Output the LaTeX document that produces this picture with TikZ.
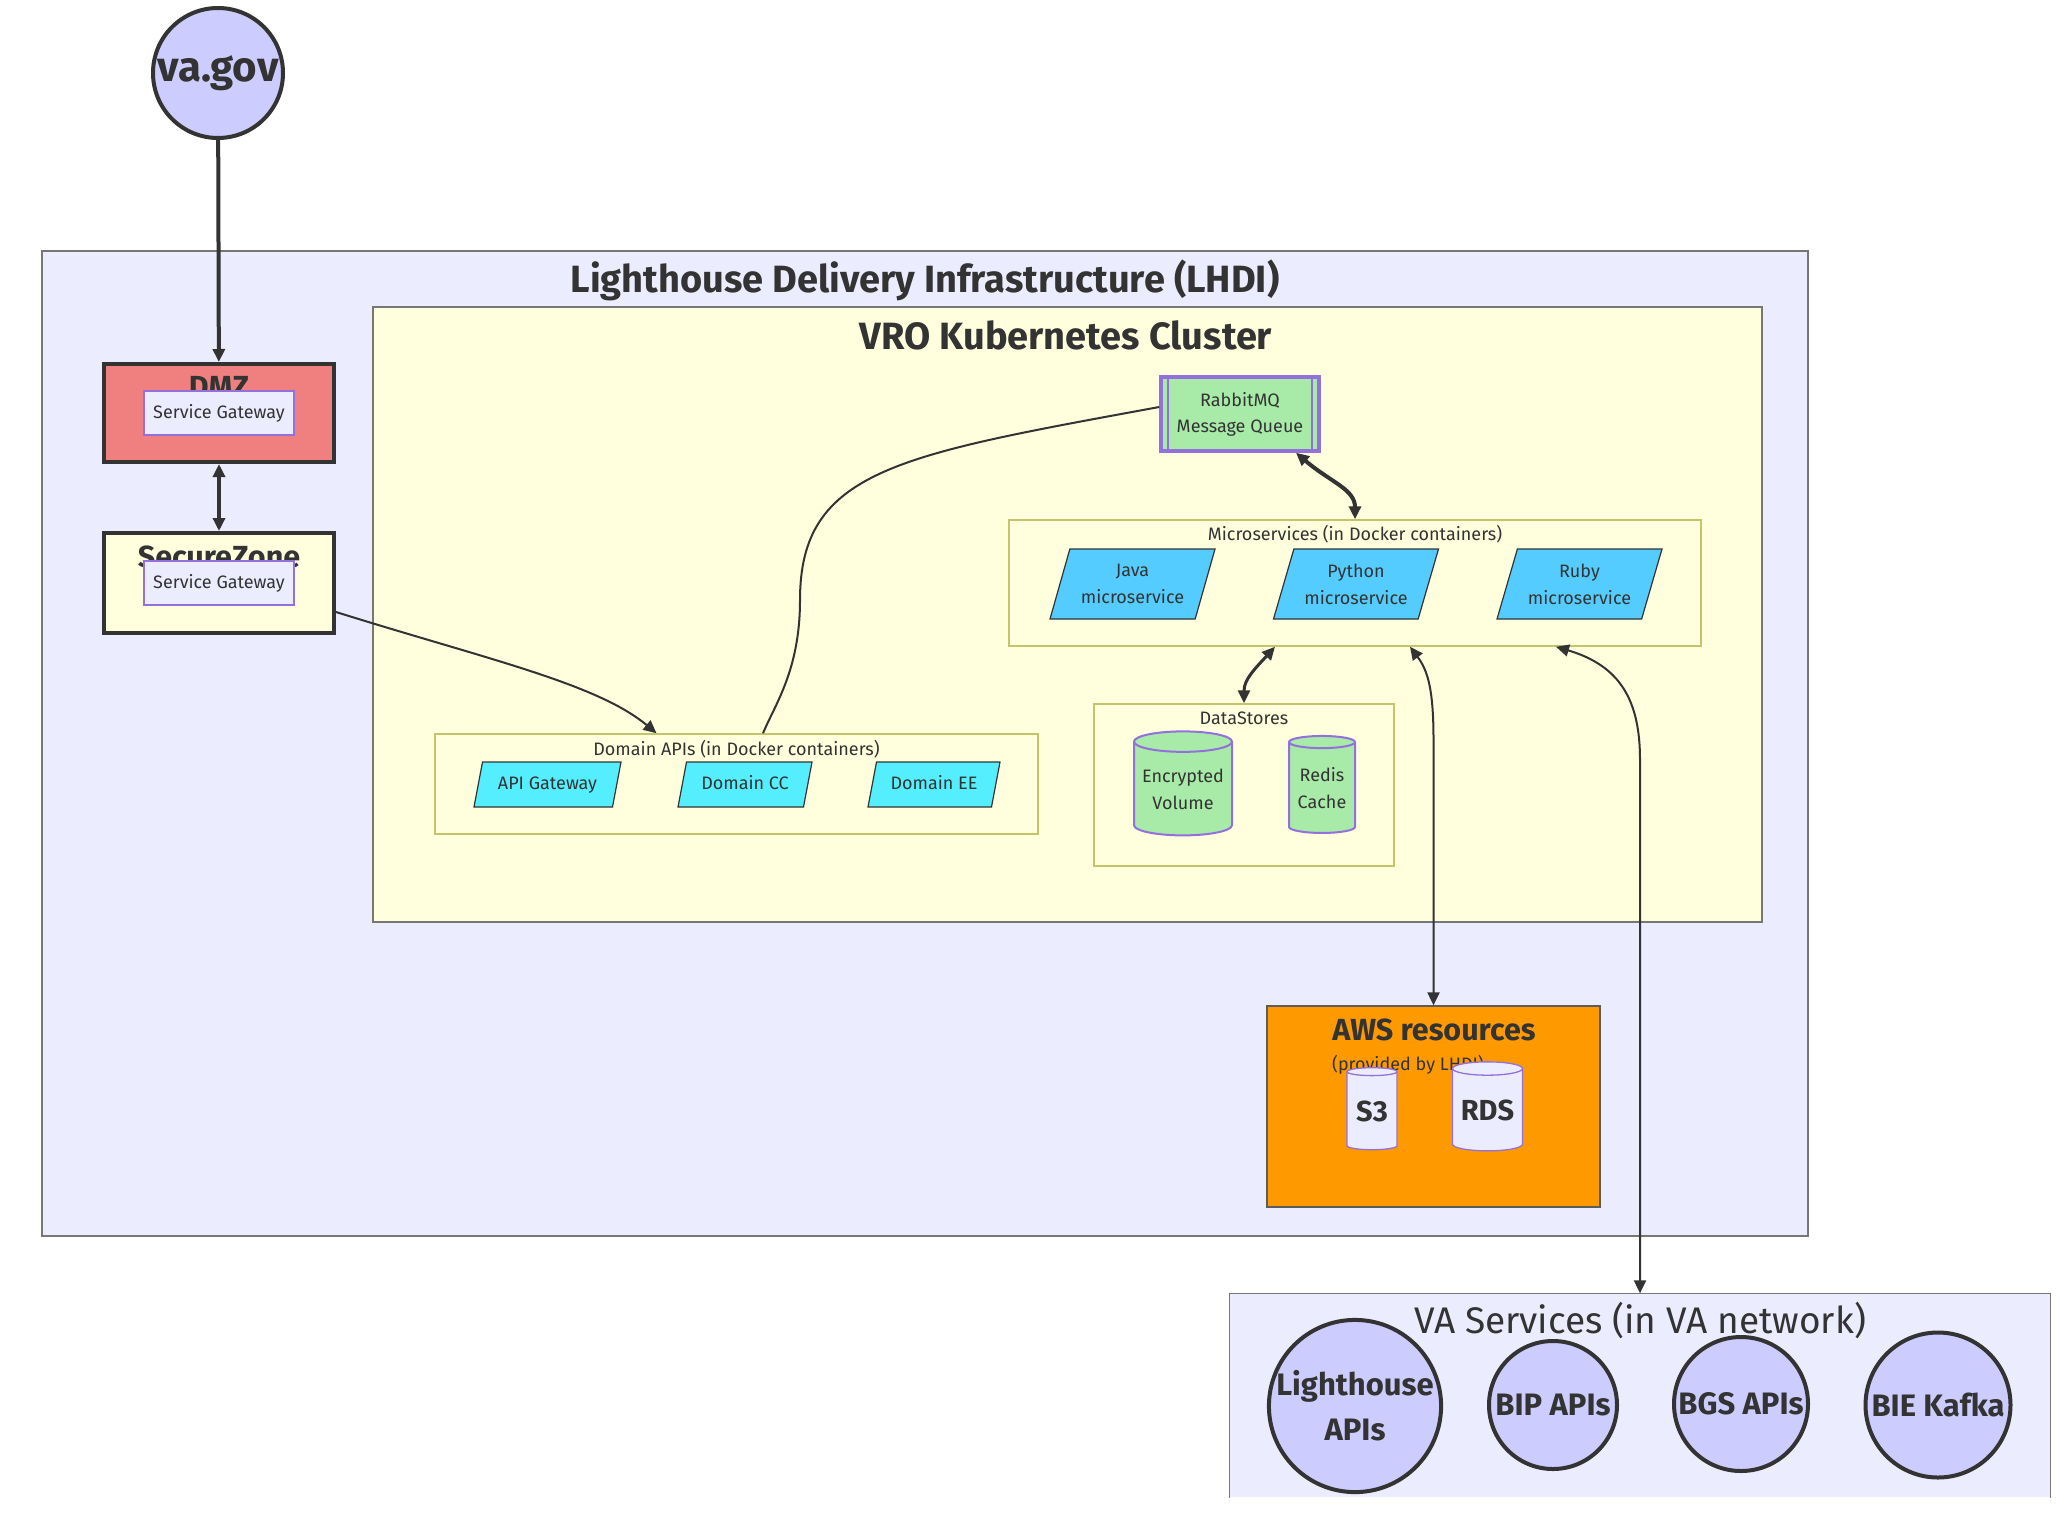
\documentclass[tikz,border=0pt]{standalone}
\usepackage{fontspec}
\setmainfont{Fira Sans}
\usetikzlibrary{shapes,arrows.meta,calc}

\definecolor{txt}{HTML}{333333}
\definecolor{lavender}{HTML}{ECECFF}
\definecolor{cream}{HTML}{FFFFDE}
\definecolor{podline}{HTML}{C4C46A}
\definecolor{boxgray}{HTML}{777777}
\definecolor{purp}{HTML}{9370DB}
\definecolor{dmzred}{HTML}{F08080}
\definecolor{sitefill}{HTML}{CCCCFF}
\definecolor{microblue}{HTML}{55CCFF}
\definecolor{apicyan}{HTML}{55EEFF}
\definecolor{storegreen}{HTML}{A8EAA8}
\definecolor{awsorange}{HTML}{FF9900}

\tikzstyle{cluster} = [rectangle, draw=boxgray, line width=1.3pt, inner sep=0pt]
\tikzstyle{dockerbox} = [rectangle, draw=podline, fill=cream, line width=1.5pt, inner sep=0pt]
\tikzstyle{zone} = [rectangle, draw=txt, line width=4pt, inner sep=0pt, minimum width=230pt]
\tikzstyle{heading} = [text=txt, inner sep=0pt, font=\fontsize{38}{44}\selectfont\bfseries]
\tikzstyle{zonehead} = [text=txt, inner sep=0pt, font=\fontsize{30.5}{36}\selectfont\bfseries]
\tikzstyle{caption} = [text=txt, inner sep=0pt, font=\fontsize{18}{27}\selectfont]
\tikzstyle{gateway} = [rectangle, draw=purp, fill=lavender, line width=1.3pt,
    minimum width=150pt, minimum height=44pt, text=txt, font=\fontsize{18}{27}\selectfont]
\tikzstyle{site} = [circle, draw=txt, fill=sitefill, line width=4pt, inner sep=0pt,
    text=txt, align=center, font=\fontsize{31}{45}\selectfont\bfseries]
\tikzstyle{service} = [trapezium, trapezium left angle=63.4, trapezium right angle=116.6,
    trapezium stretches body=true, draw=txt, line width=1.2pt, fill=microblue,
    minimum width=165pt, minimum height=70pt, inner sep=0pt, align=center, text=txt,
    font=\fontsize{18}{27}\selectfont]
\tikzstyle{domainapi} = [service, fill=apicyan, minimum height=45pt, text height=13pt, text depth=4pt]
\tikzstyle{store} = [cylinder, shape border rotate=90, aspect=0.25, draw=purp, fill=storegreen,
    line width=2pt, inner sep=0pt, align=center, text=txt, font=\fontsize{18}{27}\selectfont]
\tikzstyle{bucket} = [store, fill=lavender, line width=1.3pt, font=\fontsize{29}{34}\selectfont\bfseries]
\tikzstyle{queue} = [rectangle, draw=purp, fill=storegreen, line width=3.5pt, minimum width=158pt,
    minimum height=74pt, align=center, text=txt, font=\fontsize{18}{26}\selectfont]
\tikzstyle{line} = [draw=txt, line width=2pt, -{Triangle[length=13pt,width=12pt]}]
\tikzstyle{both} = [line, {Triangle[length=13pt,width=12pt]}-{Triangle[length=13pt,width=12pt]}]
\tikzstyle{link} = [draw=txt, line width=2pt]

\begin{document}
\begin{tikzpicture}[x=1pt, y=-1pt, node distance=170pt]
    \fill [white] (0,0) rectangle (2060,1520);
    \useasboundingbox (0,0) rectangle (2060,1520);

    % Place clusters
    \node [cluster, fill=lavender, minimum width=1766pt, minimum height=985pt] (lhdi) at (925,743.5) {};
    \node [heading] (lhditext) at (925,280) {Lighthouse Delivery Infrastructure (LHDI)};
    \node [cluster, fill=cream, minimum width=1389pt, minimum height=615pt] (vro) at (1067.5,614.5) {};
    \node [heading] (vrotext) at (1066,335) {VRO Kubernetes Cluster};

    % Place zones
    \node [zone, fill=dmzred, minimum height=98pt] (dmz) at (219,413) {};
    \node [zonehead] (dmztext) at (219,387) {DMZ};
    \node [gateway] (dmzgw) at (dmz) {Service Gateway};
    \node [zone, fill=cream, minimum height=100pt, below of=dmz] (sz) {};
    \node [zonehead] (sztext) at (219,557) {SecureZone};
    \node [gateway] (szgw) at (sz) {Service Gateway};

    \node [site, minimum size=130pt, font=\fontsize{42}{48}\selectfont\bfseries] (vagov) at (218,73) {va.gov};

    % Place queue and microservices
    \node [queue] (mq) at (1240,414) {RabbitMQ\\Message Queue};
    \draw [purp, line width=2pt] ([xshift=9pt]mq.north west) -- ([xshift=9pt]mq.south west);
    \draw [purp, line width=2pt] ([xshift=-9pt]mq.north east) -- ([xshift=-9pt]mq.south east);

    \node [dockerbox, minimum width=692pt, minimum height=126pt] (micro) at (1355,583) {};
    \node [caption] (microtext) at (1355,534) {Microservices (in Docker containers)};
    \node [service] (java) at (1132.5,584) {Java\\microservice};
    \node [service, right of=java, node distance=223.5pt] (python) {Python\\microservice};
    \node [service, right of=python, node distance=223.5pt] (ruby) {Ruby\\microservice};

    \node [dockerbox, minimum width=300pt, minimum height=162pt] (stores) at (1244,785) {};
    \node [caption] (storestext) at (1244,718) {DataStores};
    \node [store, minimum width=98pt, minimum height=104pt] (volume) at (1183,789) {Encrypted\\Volume};
    \node [store, minimum width=66pt, minimum height=97pt] (redis) at (1322,788) {Redis\\Cache};

    % Place domain APIs
    \node [dockerbox, minimum width=603pt, minimum height=100pt] (domain) at (736.5,784) {};
    \node [caption] (domaintext) at (736.5,749) {Domain APIs (in Docker containers)};
    \node [domainapi, minimum width=147pt] (apigw) at (547.5,784.5) {API Gateway};
    \node [domainapi, minimum width=134pt, right of=apigw, node distance=197.5pt] (domaincc) {Domain CC};
    \node [domainapi, minimum width=132pt, right of=domaincc, node distance=189pt] (domainee) {Domain EE};

    % Place AWS resources
    \node [cluster, draw=txt!80, fill=awsorange, minimum width=333pt, minimum height=201pt] (aws) at (1433.5,1106.5) {};
    \node [zonehead] (awstext) at (1434,1030) {AWS resources};
    \node [caption] (awsnote) at (1408,1065) {(provided by LHDI)};
    \node [bucket, minimum width=50pt, minimum height=82pt] (s3) at (1372,1111) {S3};
    \node [bucket, minimum width=70pt, minimum height=89pt] (rds) at (1487.5,1110) {RDS};

    % Place VA services
    \node [cluster, draw=none, fill=lavender, minimum width=820pt, minimum height=203pt] (vasvc) at (1640,1395.5) {};
    \draw [boxgray, line width=1.3pt] (vasvc.south west) -- (vasvc.north west) -- (vasvc.north east) -- (vasvc.south east);
    \node [heading, font=\fontsize{37}{44}\selectfont] (vatext) at (1640,1321) {VA Services (in VA network)};
    \node [site, minimum size=168pt] (lighthouse) at (1355,1406) {Lighthouse\\APIs};
    \node [site, minimum size=128pt] (bip) at (1553,1405) {BIP APIs};
    \node [site, minimum size=134pt] (bgs) at (1741,1404) {BGS APIs};
    \node [site, minimum size=145pt] (bie) at (1938,1405) {BIE Kafka};

    % Draw edges
    \coordinate (mqbend) at (800,600);
    \path [line, line width=4pt] (vagov) -- (dmz);
    \path [both, line width=4pt] (dmz) -- (sz);
    \path [line] ($(sz.east)+(0,29)$) .. controls +(150,47) and +(-60,-50) .. ($(domain.north)+(-80,0)$);
    \path [link] ($(mq.west)+(0,-7)$) .. controls +(-261,48) and +(0,-130) .. (mqbend)
        .. controls +(0,70) and +(12,-29) .. ($(domain.north)+(26.5,0)$);
    \path [both, line width=4pt] ($(mq.south)+(56,0)$) .. controls +(34,29) and +(0,-30) .. (micro.north);
    \path [both, line width=3pt] ($(micro.south)+(-80,0)$) .. controls +(-20,22) and +(0,-24) .. (stores.north);
    \path [both] ($(micro.south)+(55,0)$) .. controls +(18,24) and +(0,-50) .. (aws.north |- 0,740) -- (aws.north);
    \path [both] ($(micro.south)+(201,0)$) .. controls +(64,19) and +(0,-60) .. (vasvc.north |- 0,760) -- (vasvc.north);
\end{tikzpicture}
\end{document}
